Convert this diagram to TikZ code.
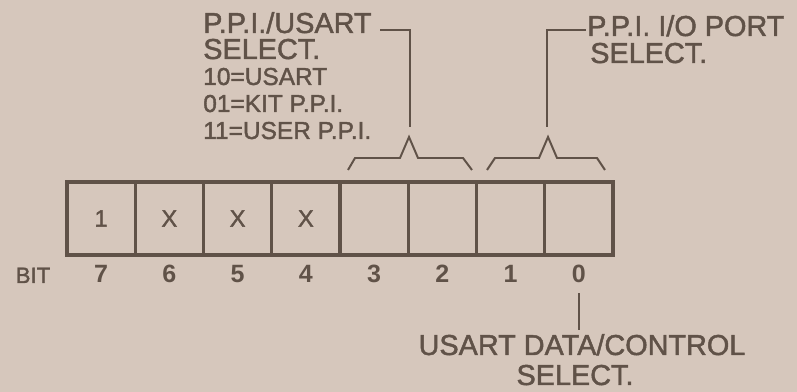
\documentclass[tikz,border=0pt]{standalone}
\usepackage{fontspec}
\setmainfont{Liberation Sans}[BoldFont=Liberation Sans,BoldFeatures={FakeBold=1.6}]
\newfontfamily\heavysans{Liberation Sans Bold}
\usetikzlibrary{positioning}
\definecolor{paper}{RGB}{214,199,188}
\definecolor{ink}{RGB}{96,82,72}

\begin{document}
\begin{tikzpicture}[x=0.025cm,y=0.025cm,
  bitbox/.style={draw=ink,line width=2.3pt,minimum width=1.706cm,minimum height=1.825cm,
    inner sep=0pt,outer sep=0pt,text=ink,font=\bfseries\fontsize{16.8}{18}\selectfont},
  bitnum/.style={text=ink,inner sep=0pt,anchor=base,font=\heavysans\fontsize{17.8}{20}\selectfont},
  lead/.style={draw=ink,line width=1.4pt},
  big/.style={text=ink,inner sep=0pt,font=\bfseries\fontsize{20.5}{24}\selectfont},
  small/.style={text=ink,inner sep=0pt,anchor=base west,font=\bfseries\fontsize{17.4}{20}\selectfont}]
  \useasboundingbox (0,0) rectangle (797,392);
  \fill[paper] (0,0) rectangle (797,392);
  % register of eight bits
  \foreach \b/\v [count=\i from 0] in {7/1,6/X,5/X,4/X,3/,2/,1/,0/} {
    \node[bitbox] (b\b) at (101.1+68.25*\i,173.5) {\v};
    \node[bitnum] (n\b) at (101.1+68.25*\i,109) {\b};
  }
  \node[text=ink,inner sep=0pt,anchor=base,font=\bfseries\fontsize{15.8}{18}\selectfont] (bitlbl) at (33,109) {BIT};
  % braces over 3-2 and 1-0
  \draw[lead] (348,222) -- (355,234) -- (400,234) -- (409,255) -- (418,234) -- (463,234) -- (472,222);
  \draw[lead] (487,222) -- (495,234) -- (539,234) -- (548,255) -- (557,234) -- (597,234) -- (605,222);
  \coordinate (tip32) at (410,265);
  \coordinate (knee32) at (410,362);
  \coordinate (tip10) at (547,265);
  \coordinate (knee10) at (547,362);
  % texts
  \node[big,anchor=base west] (ppi1) at (203,359) {P.P.I./USART};
  \node[big,anchor=base west] (ppi2) at (203,333) {SELECT.};
  \node[small] (sel10) at (203,307) {10=USART};
  \node[small] (sel01) at (203,280) {01=KIT P.P.I.};
  \node[small] (sel11) at (203,253) {11=USER P.P.I.};
  \node[big,anchor=base west] (port1) at (587,356) {P.P.I. I/O PORT};
  \node[big,anchor=base west] (port2) at (590,329) {SELECT.};
  \node[big,anchor=base] (usart1) at (582,37) {USART DATA/CONTROL};
  \node[big,anchor=base] (usart2) at (575,7) {SELECT.};
  % leaders
  \draw[lead] (tip32) -- (knee32) -- ([xshift=6pt]knee32 -| ppi1.east);
  \draw[lead] (tip10) -- (knee10) -- ([xshift=-1pt]knee10 -| port1.west);
  \draw[lead] ([yshift=-7pt]n0.south) -- ([yshift=3pt]n0.south |- usart1.north);
\end{tikzpicture}
\end{document}
